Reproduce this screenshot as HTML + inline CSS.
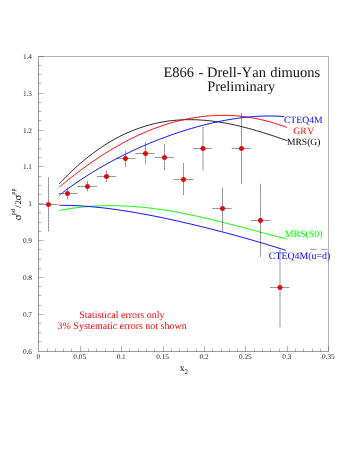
<!DOCTYPE html>
<html><head><meta charset="utf-8"><title>E866 Drell-Yan</title>
<style>
html,body{margin:0;padding:0;background:#fff;}
body{width:354px;height:458px;overflow:hidden;font-family:"Liberation Serif",serif;}
svg{display:block;will-change:transform;}
text{font-family:"Liberation Serif",serif;font-kerning:none;text-rendering:geometricPrecision;}
.t{font-size:7.3px;fill:#222;}
</style></head><body>
<svg width="354" height="458" viewBox="0 0 354 458">
<rect width="354" height="458" fill="#fff"/>

<g stroke="#000" stroke-width="0.4" fill="none">
<path d="M38.5,56.5 H328.5 V351.5" stroke-width="0.3"/>
<path d="M38.5,56.5 V351.5 H328.5"/>
<path d="M47.50,351.5 v-2.9" stroke-width="0.3"/>
<path d="M55.50,351.5 v-2.9" stroke-width="0.3"/>
<path d="M63.50,351.5 v-2.9" stroke-width="0.3"/>
<path d="M71.50,351.5 v-2.9" stroke-width="0.3"/>
<path d="M80.50,351.5 v-5.6" stroke-width="0.3"/>
<path d="M88.50,351.5 v-2.9" stroke-width="0.3"/>
<path d="M96.50,351.5 v-2.9" stroke-width="0.3"/>
<path d="M105.50,351.5 v-2.9" stroke-width="0.3"/>
<path d="M113.50,351.5 v-2.9" stroke-width="0.3"/>
<path d="M121.50,351.5 v-5.6" stroke-width="0.3"/>
<path d="M129.50,351.5 v-2.9" stroke-width="0.3"/>
<path d="M138.50,351.5 v-2.9" stroke-width="0.3"/>
<path d="M146.50,351.5 v-2.9" stroke-width="0.3"/>
<path d="M154.50,351.5 v-2.9" stroke-width="0.3"/>
<path d="M163.50,351.5 v-5.6" stroke-width="0.3"/>
<path d="M171.50,351.5 v-2.9" stroke-width="0.3"/>
<path d="M179.50,351.5 v-2.9" stroke-width="0.3"/>
<path d="M187.50,351.5 v-2.9" stroke-width="0.3"/>
<path d="M196.50,351.5 v-2.9" stroke-width="0.3"/>
<path d="M204.50,351.5 v-5.6" stroke-width="0.3"/>
<path d="M212.50,351.5 v-2.9" stroke-width="0.3"/>
<path d="M221.50,351.5 v-2.9" stroke-width="0.3"/>
<path d="M229.50,351.5 v-2.9" stroke-width="0.3"/>
<path d="M237.50,351.5 v-2.9" stroke-width="0.3"/>
<path d="M245.50,351.5 v-5.6" stroke-width="0.3"/>
<path d="M254.50,351.5 v-2.9" stroke-width="0.3"/>
<path d="M262.50,351.5 v-2.9" stroke-width="0.3"/>
<path d="M270.50,351.5 v-2.9" stroke-width="0.3"/>
<path d="M279.50,351.5 v-2.9" stroke-width="0.3"/>
<path d="M287.50,351.5 v-5.6" stroke-width="0.3"/>
<path d="M295.50,351.5 v-2.9" stroke-width="0.3"/>
<path d="M303.50,351.5 v-2.9" stroke-width="0.3"/>
<path d="M312.50,351.5 v-2.9" stroke-width="0.3"/>
<path d="M320.50,351.5 v-2.9" stroke-width="0.3"/>
<path d="M328.50,351.5 v-5.6" stroke-width="0.3"/>
<path d="M38.5,56.50 h5.2" stroke-width="0.3"/>
<path d="M38.5,65.50 h2.8" stroke-width="0.3"/>
<path d="M38.5,74.50 h2.8" stroke-width="0.3"/>
<path d="M38.5,83.50 h2.8" stroke-width="0.3"/>
<path d="M38.5,93.50 h5.2" stroke-width="0.3"/>
<path d="M38.5,102.50 h2.8" stroke-width="0.3"/>
<path d="M38.5,111.50 h2.8" stroke-width="0.3"/>
<path d="M38.5,120.50 h2.8" stroke-width="0.3"/>
<path d="M38.5,130.50 h5.2" stroke-width="0.3"/>
<path d="M38.5,139.50 h2.8" stroke-width="0.3"/>
<path d="M38.5,148.50 h2.8" stroke-width="0.3"/>
<path d="M38.5,157.50 h2.8" stroke-width="0.3"/>
<path d="M38.5,166.50 h5.2" stroke-width="0.3"/>
<path d="M38.5,176.50 h2.8" stroke-width="0.3"/>
<path d="M38.5,185.50 h2.8" stroke-width="0.3"/>
<path d="M38.5,194.50 h2.8" stroke-width="0.3"/>
<path d="M38.5,203.50 h5.2" stroke-width="0.3"/>
<path d="M38.5,212.50 h2.8" stroke-width="0.3"/>
<path d="M38.5,222.50 h2.8" stroke-width="0.3"/>
<path d="M38.5,231.50 h2.8" stroke-width="0.3"/>
<path d="M38.5,240.50 h5.2" stroke-width="0.3"/>
<path d="M38.5,249.50 h2.8" stroke-width="0.3"/>
<path d="M38.5,259.50 h2.8" stroke-width="0.3"/>
<path d="M38.5,268.50 h2.8" stroke-width="0.3"/>
<path d="M38.5,277.50 h5.2" stroke-width="0.3"/>
<path d="M38.5,286.50 h2.8" stroke-width="0.3"/>
<path d="M38.5,295.50 h2.8" stroke-width="0.3"/>
<path d="M38.5,305.50 h2.8" stroke-width="0.3"/>
<path d="M38.5,314.50 h5.2" stroke-width="0.3"/>
<path d="M38.5,323.50 h2.8" stroke-width="0.3"/>
<path d="M38.5,332.50 h2.8" stroke-width="0.3"/>
<path d="M38.5,341.50 h2.8" stroke-width="0.3"/>
</g>
<g class="t" text-anchor="middle">
<text x="38.3" y="359.0">0</text>
<text x="79.7" y="359.0">0.05</text>
<text x="121.2" y="359.0">0.1</text>
<text x="162.6" y="359.0">0.15</text>
<text x="204.0" y="359.0">0.2</text>
<text x="245.4" y="359.0">0.25</text>
<text x="286.9" y="359.0">0.3</text>
<text x="328.3" y="359.0">0.35</text>
</g>
<g class="t" text-anchor="end">
<text x="32.0" y="58.8">1.4</text>
<text x="32.0" y="95.7">1.3</text>
<text x="32.0" y="132.5">1.2</text>
<text x="32.0" y="169.4">1.1</text>
<text x="32.0" y="206.2">1</text>
<text x="32.0" y="243.1">0.9</text>
<text x="32.0" y="280.0">0.8</text>
<text x="32.0" y="316.8">0.7</text>
<text x="32.0" y="353.7">0.6</text>
</g>
<g fill="none" stroke-width="0.95" stroke-linecap="butt">
<path d="M59.2,210.5 C59.7,210.4 61.2,210.1 62.2,209.9 C63.2,209.7 64.2,209.5 65.2,209.4 C66.2,209.2 67.2,209.0 68.2,208.9 C69.2,208.7 70.2,208.6 71.2,208.4 C72.2,208.3 73.2,208.1 74.2,208.0 C75.2,207.9 76.2,207.7 77.2,207.6 C78.2,207.5 79.2,207.4 80.2,207.3 C81.2,207.2 82.2,207.1 83.2,207.0 C84.2,206.9 85.2,206.8 86.2,206.7 C87.2,206.6 88.2,206.5 89.2,206.4 C90.2,206.4 91.2,206.3 92.2,206.2 C93.2,206.2 94.2,206.1 95.2,206.1 C96.2,206.0 97.2,206.0 98.2,205.9 C99.2,205.9 100.2,205.8 101.2,205.8 C102.2,205.8 103.2,205.7 104.2,205.7 C105.2,205.7 106.2,205.7 107.2,205.7 C108.2,205.7 109.2,205.6 110.2,205.6 C111.2,205.6 112.2,205.6 113.2,205.7 C114.2,205.7 115.2,205.7 116.2,205.7 C117.2,205.7 118.2,205.7 119.2,205.8 C120.2,205.8 121.2,205.8 122.2,205.9 C123.2,205.9 124.2,206.0 125.2,206.0 C126.2,206.0 127.2,206.1 128.2,206.2 C129.2,206.2 130.2,206.3 131.2,206.3 C132.2,206.4 133.2,206.5 134.2,206.5 C135.2,206.6 136.2,206.7 137.2,206.8 C138.2,206.9 139.2,207.0 140.2,207.1 C141.2,207.1 142.2,207.2 143.2,207.3 C144.2,207.4 145.2,207.5 146.2,207.7 C147.2,207.8 148.2,207.9 149.2,208.0 C150.2,208.1 151.2,208.2 152.2,208.4 C153.2,208.5 154.2,208.6 155.2,208.7 C156.2,208.9 157.2,209.0 158.2,209.2 C159.2,209.3 160.2,209.4 161.2,209.6 C162.2,209.7 163.2,209.9 164.2,210.0 C165.2,210.2 166.2,210.3 167.2,210.5 C168.2,210.7 169.2,210.8 170.2,211.0 C171.2,211.2 172.2,211.3 173.2,211.5 C174.2,211.7 175.2,211.9 176.2,212.0 C177.2,212.2 178.2,212.4 179.2,212.6 C180.2,212.8 181.2,213.0 182.2,213.2 C183.2,213.4 184.2,213.6 185.2,213.8 C186.2,214.0 187.2,214.2 188.2,214.4 C189.2,214.6 190.2,214.8 191.2,215.0 C192.2,215.2 193.2,215.4 194.2,215.6 C195.2,215.8 196.2,216.0 197.2,216.3 C198.2,216.5 199.2,216.7 200.2,216.9 C201.2,217.2 202.2,217.4 203.2,217.6 C204.2,217.8 205.2,218.1 206.2,218.3 C207.2,218.5 208.2,218.8 209.2,219.0 C210.2,219.2 211.2,219.5 212.2,219.7 C213.2,220.0 214.2,220.2 215.2,220.4 C216.2,220.7 217.2,220.9 218.2,221.2 C219.2,221.4 220.2,221.7 221.2,221.9 C222.2,222.2 223.2,222.4 224.2,222.7 C225.2,222.9 226.2,223.2 227.2,223.4 C228.2,223.7 229.2,223.9 230.2,224.2 C231.2,224.5 232.2,224.7 233.2,225.0 C234.2,225.2 235.2,225.5 236.2,225.8 C237.2,226.0 238.2,226.3 239.2,226.5 C240.2,226.8 241.2,227.1 242.2,227.3 C243.2,227.6 244.2,227.9 245.2,228.1 C246.2,228.4 247.2,228.7 248.2,228.9 C249.2,229.2 250.2,229.5 251.2,229.7 C252.2,230.0 253.2,230.2 254.2,230.5 C255.2,230.8 256.2,231.0 257.2,231.3 C258.2,231.6 259.2,231.8 260.2,232.1 C261.2,232.4 262.2,232.6 263.2,232.9 C264.2,233.2 265.2,233.4 266.2,233.7 C267.2,234.0 268.2,234.2 269.2,234.5 C270.2,234.7 271.2,235.0 272.2,235.3 C273.2,235.5 274.2,235.8 275.2,236.1 C276.2,236.3 277.2,236.6 278.2,236.8 C279.2,237.1 280.2,237.3 281.2,237.6 C282.2,237.8 283.3,238.1 284.2,238.4 C285.1,238.6 286.3,238.9 286.7,239.0" stroke="#00ff00"/>
<path d="M59.2,205.3 C59.7,205.3 61.2,205.3 62.2,205.3 C63.2,205.3 64.2,205.3 65.2,205.4 C66.2,205.4 67.2,205.4 68.2,205.4 C69.2,205.4 70.2,205.5 71.2,205.5 C72.2,205.5 73.2,205.6 74.2,205.6 C75.2,205.6 76.2,205.7 77.2,205.7 C78.2,205.8 79.2,205.8 80.2,205.9 C81.2,205.9 82.2,206.0 83.2,206.1 C84.2,206.1 85.2,206.2 86.2,206.3 C87.2,206.4 88.2,206.4 89.2,206.5 C90.2,206.6 91.2,206.7 92.2,206.8 C93.2,206.9 94.2,207.0 95.2,207.1 C96.2,207.2 97.2,207.3 98.2,207.4 C99.2,207.5 100.2,207.6 101.2,207.7 C102.2,207.8 103.2,207.9 104.2,208.0 C105.2,208.1 106.2,208.3 107.2,208.4 C108.2,208.5 109.2,208.6 110.2,208.8 C111.2,208.9 112.2,209.0 113.2,209.2 C114.2,209.3 115.2,209.4 116.2,209.6 C117.2,209.7 118.2,209.9 119.2,210.0 C120.2,210.2 121.2,210.3 122.2,210.5 C123.2,210.6 124.2,210.8 125.2,210.9 C126.2,211.1 127.2,211.2 128.2,211.4 C129.2,211.6 130.2,211.7 131.2,211.9 C132.2,212.1 133.2,212.2 134.2,212.4 C135.2,212.6 136.2,212.7 137.2,212.9 C138.2,213.1 139.2,213.3 140.2,213.5 C141.2,213.6 142.2,213.8 143.2,214.0 C144.2,214.2 145.2,214.4 146.2,214.6 C147.2,214.7 148.2,214.9 149.2,215.1 C150.2,215.3 151.2,215.5 152.2,215.7 C153.2,215.9 154.2,216.1 155.2,216.3 C156.2,216.5 157.2,216.7 158.2,216.9 C159.2,217.1 160.2,217.3 161.2,217.5 C162.2,217.7 163.2,217.9 164.2,218.1 C165.2,218.4 166.2,218.6 167.2,218.8 C168.2,219.0 169.2,219.2 170.2,219.4 C171.2,219.6 172.2,219.9 173.2,220.1 C174.2,220.3 175.2,220.5 176.2,220.7 C177.2,221.0 178.2,221.2 179.2,221.4 C180.2,221.6 181.2,221.9 182.2,222.1 C183.2,222.3 184.2,222.5 185.2,222.8 C186.2,223.0 187.2,223.2 188.2,223.5 C189.2,223.7 190.2,223.9 191.2,224.2 C192.2,224.4 193.2,224.7 194.2,224.9 C195.2,225.1 196.2,225.4 197.2,225.6 C198.2,225.9 199.2,226.1 200.2,226.3 C201.2,226.6 202.2,226.8 203.2,227.1 C204.2,227.3 205.2,227.6 206.2,227.8 C207.2,228.1 208.2,228.3 209.2,228.6 C210.2,228.8 211.2,229.1 212.2,229.3 C213.2,229.6 214.2,229.8 215.2,230.1 C216.2,230.3 217.2,230.6 218.2,230.9 C219.2,231.1 220.2,231.4 221.2,231.6 C222.2,231.9 223.2,232.2 224.2,232.4 C225.2,232.7 226.2,232.9 227.2,233.2 C228.2,233.5 229.2,233.7 230.2,234.0 C231.2,234.3 232.2,234.5 233.2,234.8 C234.2,235.1 235.2,235.4 236.2,235.6 C237.2,235.9 238.2,236.2 239.2,236.5 C240.2,236.7 241.2,237.0 242.2,237.3 C243.2,237.6 244.2,237.8 245.2,238.1 C246.2,238.4 247.2,238.7 248.2,239.0 C249.2,239.3 250.2,239.5 251.2,239.8 C252.2,240.1 253.2,240.4 254.2,240.7 C255.2,241.0 256.2,241.3 257.2,241.6 C258.2,241.9 259.2,242.2 260.2,242.5 C261.2,242.7 262.2,243.0 263.2,243.3 C264.2,243.6 265.2,243.9 266.2,244.2 C267.2,244.6 268.2,244.9 269.2,245.2 C270.2,245.5 271.2,245.8 272.2,246.1 C273.2,246.4 274.2,246.7 275.2,247.0 C276.2,247.3 277.2,247.6 278.2,248.0 C279.2,248.3 280.2,248.6 281.2,248.9 C282.2,249.2 283.4,249.6 284.2,249.9 C285.0,250.1 285.5,250.3 285.8,250.4" stroke="#0000ff"/>
<path d="M59.2,183.8 C59.7,183.3 61.2,181.7 62.2,180.6 C63.2,179.6 64.2,178.6 65.2,177.6 C66.2,176.6 67.2,175.6 68.2,174.6 C69.2,173.6 70.2,172.6 71.2,171.7 C72.2,170.7 73.2,169.8 74.2,168.9 C75.2,168.0 76.2,167.1 77.2,166.2 C78.2,165.3 79.2,164.4 80.2,163.5 C81.2,162.7 82.2,161.8 83.2,161.0 C84.2,160.1 85.2,159.3 86.2,158.5 C87.2,157.7 88.2,156.9 89.2,156.1 C90.2,155.3 91.2,154.6 92.2,153.8 C93.2,153.1 94.2,152.3 95.2,151.6 C96.2,150.9 97.2,150.2 98.2,149.5 C99.2,148.8 100.2,148.1 101.2,147.4 C102.2,146.7 103.2,146.1 104.2,145.4 C105.2,144.8 106.2,144.2 107.2,143.5 C108.2,142.9 109.2,142.3 110.2,141.7 C111.2,141.1 112.2,140.6 113.2,140.0 C114.2,139.4 115.2,138.9 116.2,138.3 C117.2,137.8 118.2,137.3 119.2,136.7 C120.2,136.2 121.2,135.7 122.2,135.2 C123.2,134.8 124.2,134.3 125.2,133.8 C126.2,133.3 127.2,132.9 128.2,132.5 C129.2,132.0 130.2,131.6 131.2,131.2 C132.2,130.8 133.2,130.4 134.2,130.0 C135.2,129.6 136.2,129.2 137.2,128.8 C138.2,128.5 139.2,128.1 140.2,127.8 C141.2,127.4 142.2,127.1 143.2,126.8 C144.2,126.5 145.2,126.1 146.2,125.8 C147.2,125.6 148.2,125.3 149.2,125.0 C150.2,124.7 151.2,124.5 152.2,124.2 C153.2,124.0 154.2,123.7 155.2,123.5 C156.2,123.3 157.2,123.0 158.2,122.8 C159.2,122.6 160.2,122.4 161.2,122.2 C162.2,122.0 163.2,121.9 164.2,121.7 C165.2,121.5 166.2,121.4 167.2,121.2 C168.2,121.1 169.2,121.0 170.2,120.8 C171.2,120.7 172.2,120.6 173.2,120.5 C174.2,120.4 175.2,120.3 176.2,120.2 C177.2,120.1 178.2,120.1 179.2,120.0 C180.2,119.9 181.2,119.9 182.2,119.8 C183.2,119.8 184.2,119.7 185.2,119.7 C186.2,119.7 187.2,119.7 188.2,119.7 C189.2,119.6 190.2,119.6 191.2,119.7 C192.2,119.7 193.2,119.7 194.2,119.7 C195.2,119.7 196.2,119.8 197.2,119.8 C198.2,119.9 199.2,119.9 200.2,120.0 C201.2,120.0 202.2,120.1 203.2,120.2 C204.2,120.2 205.2,120.3 206.2,120.4 C207.2,120.5 208.2,120.6 209.2,120.7 C210.2,120.8 211.2,120.9 212.2,121.1 C213.2,121.2 214.2,121.3 215.2,121.5 C216.2,121.6 217.2,121.7 218.2,121.9 C219.2,122.0 220.2,122.2 221.2,122.4 C222.2,122.5 223.2,122.7 224.2,122.9 C225.2,123.1 226.2,123.2 227.2,123.4 C228.2,123.6 229.2,123.8 230.2,124.0 C231.2,124.2 232.2,124.4 233.2,124.7 C234.2,124.9 235.2,125.1 236.2,125.3 C237.2,125.6 238.2,125.8 239.2,126.0 C240.2,126.3 241.2,126.5 242.2,126.8 C243.2,127.0 244.2,127.3 245.2,127.5 C246.2,127.8 247.2,128.0 248.2,128.3 C249.2,128.6 250.2,128.9 251.2,129.1 C252.2,129.4 253.2,129.7 254.2,130.0 C255.2,130.3 256.2,130.6 257.2,130.9 C258.2,131.1 259.2,131.4 260.2,131.7 C261.2,132.0 262.2,132.4 263.2,132.7 C264.2,133.0 265.2,133.3 266.2,133.6 C267.2,133.9 268.2,134.2 269.2,134.6 C270.2,134.9 271.2,135.2 272.2,135.5 C273.2,135.9 274.2,136.2 275.2,136.5 C276.2,136.9 277.2,137.2 278.2,137.5 C279.2,137.9 280.2,138.2 281.2,138.6 C282.2,138.9 283.2,139.2 284.2,139.6 C285.2,139.9 286.6,140.4 287.2,140.6 C287.8,140.8 287.4,140.7 287.5,140.7" stroke="#000" stroke-width="0.85"/>
<path d="M59.3,187.1 C59.8,186.7 61.3,185.4 62.3,184.6 C63.3,183.8 64.3,183.0 65.3,182.2 C66.3,181.3 67.3,180.5 68.3,179.7 C69.3,178.9 70.3,178.1 71.3,177.4 C72.3,176.6 73.3,175.8 74.3,175.0 C75.3,174.2 76.3,173.5 77.3,172.7 C78.3,172.0 79.3,171.2 80.3,170.5 C81.3,169.7 82.3,169.0 83.3,168.2 C84.3,167.5 85.3,166.8 86.3,166.1 C87.3,165.4 88.3,164.6 89.3,163.9 C90.3,163.2 91.3,162.5 92.3,161.8 C93.3,161.2 94.3,160.5 95.3,159.8 C96.3,159.1 97.3,158.5 98.3,157.8 C99.3,157.1 100.3,156.5 101.3,155.8 C102.3,155.2 103.3,154.5 104.3,153.9 C105.3,153.3 106.3,152.7 107.3,152.0 C108.3,151.4 109.3,150.8 110.3,150.2 C111.3,149.6 112.3,149.0 113.3,148.4 C114.3,147.8 115.3,147.2 116.3,146.7 C117.3,146.1 118.3,145.5 119.3,145.0 C120.3,144.4 121.3,143.9 122.3,143.3 C123.3,142.8 124.3,142.2 125.3,141.7 C126.3,141.2 127.3,140.7 128.3,140.1 C129.3,139.6 130.3,139.1 131.3,138.6 C132.3,138.1 133.3,137.6 134.3,137.2 C135.3,136.7 136.3,136.2 137.3,135.7 C138.3,135.3 139.3,134.8 140.3,134.3 C141.3,133.9 142.3,133.5 143.3,133.0 C144.3,132.6 145.3,132.1 146.3,131.7 C147.3,131.3 148.3,130.9 149.3,130.5 C150.3,130.1 151.3,129.7 152.3,129.3 C153.3,128.9 154.3,128.5 155.3,128.1 C156.3,127.8 157.3,127.4 158.3,127.1 C159.3,126.7 160.3,126.3 161.3,126.0 C162.3,125.7 163.3,125.3 164.3,125.0 C165.3,124.7 166.3,124.4 167.3,124.0 C168.3,123.7 169.3,123.4 170.3,123.1 C171.3,122.8 172.3,122.6 173.3,122.3 C174.3,122.0 175.3,121.7 176.3,121.5 C177.3,121.2 178.3,121.0 179.3,120.7 C180.3,120.5 181.3,120.2 182.3,120.0 C183.3,119.8 184.3,119.6 185.3,119.3 C186.3,119.1 187.3,118.9 188.3,118.7 C189.3,118.5 190.3,118.4 191.3,118.2 C192.3,118.0 193.3,117.8 194.3,117.7 C195.3,117.5 196.3,117.3 197.3,117.2 C198.3,117.1 199.3,116.9 200.3,116.8 C201.3,116.7 202.3,116.5 203.3,116.4 C204.3,116.3 205.3,116.2 206.3,116.1 C207.3,116.0 208.3,115.9 209.3,115.9 C210.3,115.8 211.3,115.7 212.3,115.7 C213.3,115.6 214.3,115.6 215.3,115.5 C216.3,115.5 217.3,115.4 218.3,115.4 C219.3,115.4 220.3,115.4 221.3,115.4 C222.3,115.3 223.3,115.3 224.3,115.4 C225.3,115.4 226.3,115.4 227.3,115.4 C228.3,115.4 229.3,115.5 230.3,115.5 C231.3,115.6 232.3,115.6 233.3,115.7 C234.3,115.7 235.3,115.8 236.3,115.9 C237.3,116.0 238.3,116.1 239.3,116.1 C240.3,116.2 241.3,116.4 242.3,116.5 C243.3,116.6 244.3,116.7 245.3,116.8 C246.3,117.0 247.3,117.1 248.3,117.3 C249.3,117.4 250.3,117.6 251.3,117.7 C252.3,117.9 253.3,118.1 254.3,118.3 C255.3,118.4 256.3,118.6 257.3,118.8 C258.3,119.1 259.3,119.3 260.3,119.5 C261.3,119.7 262.3,119.9 263.3,120.2 C264.3,120.4 265.3,120.7 266.3,120.9 C267.3,121.2 268.3,121.4 269.3,121.7 C270.3,122.0 271.3,122.3 272.3,122.6 C273.3,122.9 274.3,123.2 275.3,123.5 C276.3,123.8 277.3,124.1 278.3,124.5 C279.3,124.8 280.3,125.1 281.3,125.5 C282.3,125.8 283.4,126.2 284.3,126.5 C285.2,126.9 286.3,127.3 286.7,127.4" stroke="#ff0000"/>
<path d="M59.3,195.2 C59.8,194.8 61.3,193.6 62.3,192.9 C63.3,192.1 64.3,191.4 65.3,190.6 C66.3,189.9 67.3,189.1 68.3,188.4 C69.3,187.7 70.3,187.0 71.3,186.3 C72.3,185.6 73.3,184.9 74.3,184.2 C75.3,183.5 76.3,182.8 77.3,182.1 C78.3,181.4 79.3,180.7 80.3,180.1 C81.3,179.4 82.3,178.8 83.3,178.1 C84.3,177.4 85.3,176.8 86.3,176.2 C87.3,175.5 88.3,174.9 89.3,174.3 C90.3,173.6 91.3,173.0 92.3,172.4 C93.3,171.8 94.3,171.2 95.3,170.6 C96.3,170.0 97.3,169.4 98.3,168.8 C99.3,168.2 100.3,167.6 101.3,167.0 C102.3,166.5 103.3,165.9 104.3,165.3 C105.3,164.8 106.3,164.2 107.3,163.7 C108.3,163.1 109.3,162.5 110.3,162.0 C111.3,161.5 112.3,160.9 113.3,160.4 C114.3,159.9 115.3,159.3 116.3,158.8 C117.3,158.3 118.3,157.8 119.3,157.3 C120.3,156.7 121.3,156.2 122.3,155.7 C123.3,155.2 124.3,154.7 125.3,154.3 C126.3,153.8 127.3,153.3 128.3,152.8 C129.3,152.3 130.3,151.8 131.3,151.4 C132.3,150.9 133.3,150.4 134.3,150.0 C135.3,149.5 136.3,149.0 137.3,148.6 C138.3,148.1 139.3,147.7 140.3,147.2 C141.3,146.8 142.3,146.4 143.3,145.9 C144.3,145.5 145.3,145.1 146.3,144.6 C147.3,144.2 148.3,143.8 149.3,143.4 C150.3,143.0 151.3,142.5 152.3,142.1 C153.3,141.7 154.3,141.3 155.3,140.9 C156.3,140.5 157.3,140.1 158.3,139.7 C159.3,139.4 160.3,139.0 161.3,138.6 C162.3,138.2 163.3,137.8 164.3,137.5 C165.3,137.1 166.3,136.7 167.3,136.4 C168.3,136.0 169.3,135.6 170.3,135.3 C171.3,134.9 172.3,134.6 173.3,134.2 C174.3,133.9 175.3,133.5 176.3,133.2 C177.3,132.9 178.3,132.5 179.3,132.2 C180.3,131.9 181.3,131.5 182.3,131.2 C183.3,130.9 184.3,130.6 185.3,130.3 C186.3,130.0 187.3,129.7 188.3,129.3 C189.3,129.0 190.3,128.7 191.3,128.5 C192.3,128.2 193.3,127.9 194.3,127.6 C195.3,127.3 196.3,127.0 197.3,126.7 C198.3,126.5 199.3,126.2 200.3,125.9 C201.3,125.7 202.3,125.4 203.3,125.1 C204.3,124.9 205.3,124.6 206.3,124.4 C207.3,124.1 208.3,123.9 209.3,123.7 C210.3,123.4 211.3,123.2 212.3,123.0 C213.3,122.7 214.3,122.5 215.3,122.3 C216.3,122.1 217.3,121.9 218.3,121.6 C219.3,121.4 220.3,121.2 221.3,121.0 C222.3,120.8 223.3,120.6 224.3,120.5 C225.3,120.3 226.3,120.1 227.3,119.9 C228.3,119.7 229.3,119.6 230.3,119.4 C231.3,119.2 232.3,119.1 233.3,118.9 C234.3,118.8 235.3,118.6 236.3,118.5 C237.3,118.3 238.3,118.2 239.3,118.0 C240.3,117.9 241.3,117.8 242.3,117.7 C243.3,117.6 244.3,117.4 245.3,117.3 C246.3,117.2 247.3,117.1 248.3,117.0 C249.3,116.9 250.3,116.8 251.3,116.8 C252.3,116.7 253.3,116.6 254.3,116.5 C255.3,116.5 256.3,116.4 257.3,116.3 C258.3,116.3 259.3,116.2 260.3,116.2 C261.3,116.2 262.3,116.1 263.3,116.1 C264.3,116.1 265.3,116.0 266.3,116.0 C267.3,116.0 268.3,116.0 269.3,116.0 C270.3,116.0 271.3,116.0 272.3,116.0 C273.3,116.1 274.3,116.1 275.3,116.1 C276.3,116.1 277.3,116.2 278.3,116.2 C279.3,116.3 280.3,116.3 281.3,116.4 C282.3,116.5 283.7,116.6 284.2,116.6" stroke="#0000ff"/>
</g>
<g stroke="#1a1a1a" stroke-width="0.5" fill="none" stroke-dasharray="2.7 0.3">
<path d="M39.2,204.5 H58.5 M48.5,177.5 V231.7"/>
<path d="M58.5,193.5 H77.7 M67.5,187.5 V199.6"/>
<path d="M77.7,186.5 H97.0 M87.5,181.1 V191.2"/>
<path d="M97.0,176.5 H116.2 M106.5,170.6 V182.0"/>
<path d="M116.2,158.5 H135.4 M125.5,150.7 V166.8"/>
<path d="M135.4,153.5 H154.7 M145.5,141.9 V163.9"/>
<path d="M154.7,157.5 H173.9 M164.5,143.9 V170.3"/>
<path d="M173.9,179.5 H193.2 M183.5,163.2 V195.0"/>
<path d="M193.2,148.5 H212.4 M203.0,126.9 V170.6"/>
<path d="M212.4,208.5 H231.7 M222.5,187.8 V231.0"/>
<path d="M231.7,148.5 H250.9 M241.5,113.0 V183.9"/>
<path d="M250.9,220.5 H270.2 M260.5,183.8 V256.9"/>
<path d="M270.2,287.5 H289.4 M280.0,249.5 V327.2"/>
</g>
<g fill="#f00000" stroke="#a00000" stroke-width="0.4">
<circle cx="48.5" cy="204.5" r="2.3"/>
<circle cx="67.5" cy="193.5" r="2.3"/>
<circle cx="87.5" cy="186.5" r="2.3"/>
<circle cx="106.5" cy="176.5" r="2.3"/>
<circle cx="125.5" cy="158.5" r="2.3"/>
<circle cx="145.5" cy="153.5" r="2.3"/>
<circle cx="164.5" cy="157.5" r="2.3"/>
<circle cx="183.5" cy="179.5" r="2.3"/>
<circle cx="203.0" cy="148.5" r="2.3"/>
<circle cx="222.5" cy="208.5" r="2.3"/>
<circle cx="241.5" cy="148.5" r="2.3"/>
<circle cx="260.5" cy="220.5" r="2.3"/>
<circle cx="280.0" cy="287.5" r="2.3"/>
</g>
<text x="283.9" y="122.7" font-size="9.7" fill="#0000ff">CTEQ4M</text>
<text x="293.2" y="133.6" font-size="9.7" fill="#ff0000">GR<tspan dx="0.5">V</tspan></text>
<text x="286.9" y="144.5" font-size="9.6" fill="#000">MRS(G)</text>
<text x="284.7" y="236.8" font-size="9.85" fill="#00ff00">MRS(S0)</text>
<text x="268.8" y="258.8" font-size="9.9" fill="#0000ff">CTEQ4M(u=d)</text>
<path d="M310.5,249.4 h6 M321.4,249.4 h6.3" stroke="#0000ff" stroke-width="0.45" fill="none"/>
<text y="76.5" font-size="14.5" fill="#111"><tspan x="163.5">E866</tspan><tspan x="198.4">-</tspan><tspan x="207.0">Drell-Y</tspan><tspan x="252.3">an</tspan><tspan x="270.2">dimuons</tspan></text>
<text x="207.2" y="91.3" font-size="14.4" fill="#111">Preliminary</text>
<text x="79.2" y="317.7" font-size="9.97" fill="#ff0000">Statistical errors only</text>
<text x="57.6" y="328.6" font-size="9.97" fill="#ff0000">3% Systematic errors not shown</text>
<text x="179.7" y="370.5" font-size="9.6" fill="#000">x<tspan font-size="7" dy="3.5" dx="-0.1">2</tspan></text>
<g transform="translate(21.2,220.0) rotate(-90)" fill="#000"><text x="-0.3" y="0" font-size="10.6">σ</text><text x="4.8" y="-5.9" font-size="6.2">pd</text><text x="12.0" y="0" font-size="8.6">/</text><text x="15.6" y="0" font-size="8.6">2</text><text x="19.6" y="0" font-size="10.6">σ</text><text x="25.3" y="-5.9" font-size="6.2">pp</text></g>
</svg></body></html>
